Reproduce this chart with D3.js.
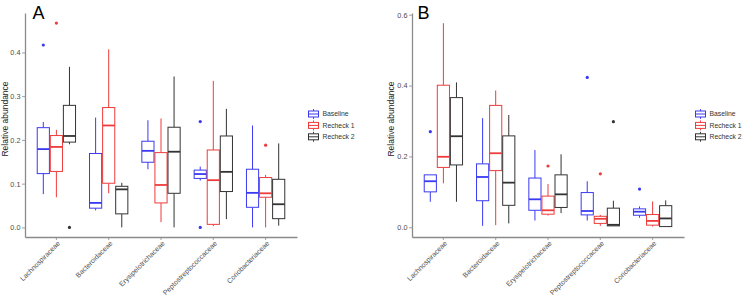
<!DOCTYPE html>
<html>
<head>
<meta charset="utf-8">
<script src="https://cdn.jsdelivr.net/npm/d3@7"></script>
<style>
  html, body { margin: 0; padding: 0; background: #fff; }
  svg { display: block; font-family: "Liberation Sans", Arial, Helvetica, sans-serif; }
</style>
</head>
<body>
<svg id="chart" width="744" height="297"></svg>
<script>
// ---------- DATA ----------
const categories = ["Lachnospiraceae", "Bacteroidaceae", "Erysipelotrichaceae", "Peptostreptococcaceae", "Coriobacteriaceae"];
const seriesNames = ["Baseline", "Recheck 1", "Recheck 2"];
const seriesColors = ["#3a3af2", "#ef3b3b", "#333333"];

// Stats per category: [lowerWhisker, q1, median, q3, upperWhisker]
const panelA_baseline = [[0.076,0.123,0.179,0.228,0.241],[0.039,0.044,0.056,0.169,0.251],[0.133,0.149,0.175,0.197,0.245],[0.107,0.112,0.122,0.131,0.139],[0.000,0.046,0.079,0.133,0.233]];
const panelA_recheck1 = [[0.069,0.128,0.184,0.210,0.223],[0.078,0.101,0.233,0.274,0.407],[0.012,0.056,0.097,0.171,0.249],[0.003,0.007,0.108,0.177,0.335],[0.000,0.069,0.078,0.114,0.120]];
const panelA_recheck2 = [[0.190,0.195,0.209,0.279,0.367],[0.000,0.031,0.087,0.094,0.102],[0.000,0.078,0.173,0.229,0.345],[0.019,0.082,0.127,0.209,0.271],[0.004,0.020,0.053,0.110,0.192]];
// Outliers: [categoryIndex, value]
const panelA_out_baseline = [[0,0.417],[3,0.242],[3,0.000]];
const panelA_out_recheck1 = [[0,0.467],[4,0.188]];
const panelA_out_recheck2 = [[0,0.000]];

const panelB_baseline = [[0.072,0.100,0.130,0.148,0.148],[0.004,0.075,0.142,0.179,0.308],[0.019,0.048,0.079,0.139,0.218],[0.019,0.035,0.046,0.098,0.130],[0.027,0.034,0.044,0.052,0.059]];
const panelB_recheck1 = [[0.124,0.169,0.199,0.401,0.576],[0.006,0.160,0.209,0.344,0.386],[0.033,0.037,0.048,0.088,0.122],[0.004,0.011,0.024,0.031,0.035],[0.002,0.006,0.018,0.036,0.073]];
const panelB_recheck2 = [[0.072,0.176,0.257,0.366,0.409],[0.011,0.062,0.126,0.258,0.317],[0.040,0.056,0.093,0.148,0.206],[0.004,0.004,0.007,0.054,0.075],[0.002,0.002,0.025,0.061,0.076]];
const panelB_out_baseline = [[0,0.270],[3,0.423],[4,0.108]];
const panelB_out_recheck1 = [[2,0.173],[3,0.151]];
const panelB_out_recheck2 = [[3,0.298]];

const panelA_yTicks = [0.0, 0.1, 0.2, 0.3, 0.4];
const panelB_yTicks = [0.0, 0.2, 0.4, 0.6];

// ---------- DRAW ----------
const svg = d3.select("#chart");
const FONT_TICK = 7.3;

function drawPanel(cfg) {
  const g = svg.append("g");
  const x = d3.scaleBand().domain(categories).range([cfg.x0, cfg.x1]).paddingInner(0).paddingOuter(0.1);
  const y = d3.scaleLinear().domain(cfg.yDomain).range([cfg.y1, cfg.y0]);
  const step = x.bandwidth();
  const dodge = step * 0.25;
  const boxW = dodge * 0.93;

  // axes
  const yAxis = d3.axisLeft(y).tickValues(cfg.yTicks).tickFormat(d3.format(".1f")).tickSize(3).tickPadding(1.5).tickSizeOuter(0);
  const ya = g.append("g").attr("transform", `translate(${cfg.x0},0)`).call(yAxis);
  const xAxis = d3.axisBottom(x).tickSize(3).tickSizeOuter(0).tickFormat("");
  const xa = g.append("g").attr("transform", `translate(0,${cfg.y1})`).call(xAxis);
  [ya, xa].forEach(a => {
    a.select(".domain").attr("stroke", "#8a8a8a").attr("stroke-width", 1.3);
    a.selectAll(".tick line").attr("stroke", "#8a8a8a").attr("stroke-width", 0.8);
  });
  ya.selectAll(".tick text").attr("fill", "#4d4d4d").style("font-size", FONT_TICK + "px");

  // x labels, rotated
  g.selectAll(".xlab").data(categories).enter().append("text")
    .attr("class", "xlab")
    .attr("transform", d => `translate(${x(d) + step / 2 + 2.5},${cfg.y1 + 5}) rotate(-45)`)
    .attr("text-anchor", "end")
    .attr("dy", "0.35em")
    .attr("fill", "#4d4d4d")
    .style("font-size", "7px")
    .text(d => d);

  // boxes
  cfg.series.forEach((stats, si) => {
    const col = seriesColors[si];
    const off = (si - 1) * dodge;
    const sg = g.append("g");
    stats.forEach((s, ci) => {
      const cx = x(categories[ci]) + step / 2 + off;
      const [lw, q1, med, q3, uw] = s;
      sg.append("line").attr("x1", cx).attr("x2", cx).attr("y1", y(q3)).attr("y2", y(uw)).attr("stroke", col).attr("stroke-width", 1);
      sg.append("line").attr("x1", cx).attr("x2", cx).attr("y1", y(q1)).attr("y2", y(lw)).attr("stroke", col).attr("stroke-width", 1);
      sg.append("rect").attr("x", cx - boxW / 2).attr("width", boxW)
        .attr("y", y(q3)).attr("height", Math.max(0.5, y(q1) - y(q3)))
        .attr("fill", "#fff").attr("stroke", col).attr("stroke-width", 1);
      sg.append("line").attr("x1", cx - boxW / 2).attr("x2", cx + boxW / 2).attr("y1", y(med)).attr("y2", y(med)).attr("stroke", col).attr("stroke-width", 1.8);
    });
    cfg.outliers[si].forEach(([ci, v]) => {
      const cx = x(categories[ci]) + step / 2 + off;
      sg.append("circle").attr("cx", cx).attr("cy", y(v)).attr("r", 1.6).attr("fill", col);
    });
  });

  // y title
  g.append("text")
    .attr("transform", `translate(${cfg.titleX},${(cfg.y0 + cfg.y1) / 2 - 6}) rotate(-90)`)
    .attr("text-anchor", "middle")
    .attr("fill", "#222")
    .style("font-size", "8.5px")
    .text("Relative abundance");

  // panel letter
  g.append("text").attr("x", cfg.letterX).attr("y", 18.5).style("font-size", "18px").attr("fill", "#000").text(cfg.letter);

  // legend
  const lg = g.append("g");
  seriesNames.forEach((n, i) => {
    const ry = 114 + i * 11.4;
    const kx = cfg.legendX;
    const col = seriesColors[i];
    const cxk = kx + 5.5;
    lg.append("line").attr("x1", cxk).attr("x2", cxk).attr("y1", ry - 5).attr("y2", ry + 5).attr("stroke", col).attr("stroke-width", 0.9);
    lg.append("rect").attr("x", kx + 0.5).attr("y", ry - 3).attr("width", 10).attr("height", 6).attr("fill", "#fff").attr("stroke", col).attr("stroke-width", 1);
    lg.append("line").attr("x1", kx + 0.5).attr("x2", kx + 10.5).attr("y1", ry).attr("y2", ry).attr("stroke", col).attr("stroke-width", 1);
    lg.append("text").attr("x", kx + 14.5).attr("y", ry).attr("dy", "0.35em").attr("fill", "#333").style("font-size", "6.8px").text(n);
  });
}

drawPanel({
  x0: 25, x1: 297, y0: 13, y1: 237,
  yDomain: [-0.0219, 0.4901], yTicks: panelA_yTicks,
  series: [panelA_baseline, panelA_recheck1, panelA_recheck2],
  outliers: [panelA_out_baseline, panelA_out_recheck1, panelA_out_recheck2],
  titleX: 8, letter: "A", letterX: 32.5, legendX: 308
});
drawPanel({
  x0: 412, x1: 684, y0: 13, y1: 237,
  yDomain: [-0.0274, 0.6048], yTicks: panelB_yTicks,
  series: [panelB_baseline, panelB_recheck1, panelB_recheck2],
  outliers: [panelB_out_baseline, panelB_out_recheck1, panelB_out_recheck2],
  titleX: 394, letter: "B", letterX: 417.5, legendX: 695
});
</script>
</body>
</html>
